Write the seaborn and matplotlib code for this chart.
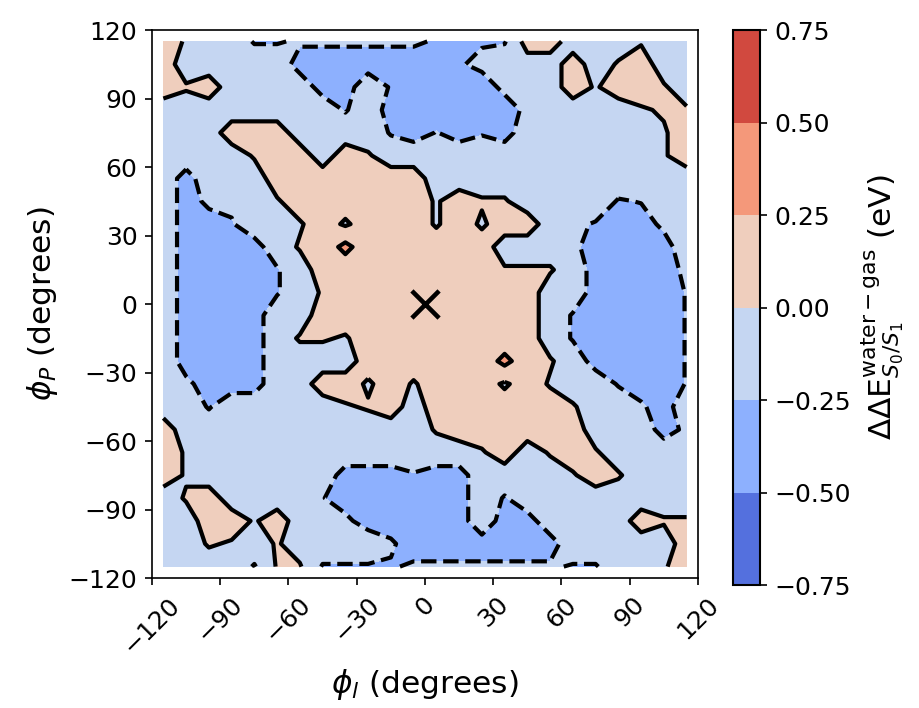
import numpy as np
import matplotlib
matplotlib.use("Agg")
import matplotlib.pyplot as plt
import seaborn as sns

# ---- grid coordinates (degrees) ----
phi_l = [-115, -105, -95, -85, -75, -65, -55, -45, -35, -25, -15, -5,
         5, 15, 25, 35, 45, 55, 65, 75, 85, 95, 105, 115]
phi_p = [115, 105, 95, 85, 75, 65, 55, 45, 35, 25, 15, 5,
         -5, -15, -25, -35, -45, -55, -65, -75, -85, -95, -105, -115]

# ---- energy values (eV) ----
A = -0.35   # medium blue band
B = -0.10   # light blue band
C = 0.10    # light salmon band
D = 0.32    # salmon band (small islands)
E = 0.02    # just above 0
F = -0.02   # just below 0
G = -0.20   # just above -0.25
L = -0.03   # tiny loops
s = -0.27   # just below -0.25
t = -0.22
u = -0.24

dE_rows = [
    [C, F, B, B, s, s, t, t, t, t, t, t, s, s, s, s, C, C, B, B, B, F, B, B],
    [C, B, B, B, B, B, A, A, A, A, A, A, A, s, G, B, B, B, C, B, E, C, B, B],
    [C, E, C, B, B, B, B, A, A, B, s, A, A, A, A, G, B, B, C, F, C, C, E, B],
    [B, B, B, B, B, B, B, B, s, B, A, A, A, A, A, A, G, B, B, B, B, F, E, E],
    [B, B, B, C, C, C, B, B, B, B, s, A, u, A, s, A, B, B, B, B, B, B, F, C],
    [B, B, B, B, E, C, C, B, C, E, B, B, B, B, B, B, B, B, B, B, B, B, F, C],
    [B, A, B, B, B, C, C, C, C, C, C, C, B, B, B, B, B, B, B, B, B, B, B, B],
    [B, A, G, G, B, F, C, C, C, C, C, C, F, C, E, E, B, B, B, B, s, u, B, B],
    [B, A, A, s, B, B, F, C, L, C, C, C, F, C, L, C, C, B, G, s, A, A, G, B],
    [B, A, A, A, A, B, E, C, D, C, C, C, C, C, C, B, B, B, G, A, A, A, A, B],
    [B, A, A, A, A, s, B, C, C, C, C, C, C, C, C, E, E, E, B, A, A, A, A, G],
    [B, A, A, A, A, s, B, E, C, C, C, C, C, C, C, C, C, B, B, A, A, A, A, u],
    [B, A, A, A, A, B, B, C, C, C, C, C, C, C, C, C, C, B, s, A, A, A, A, u],
    [B, A, A, A, A, B, E, E, F, C, C, C, C, C, C, C, C, B, s, A, A, A, A, u],
    [B, A, A, A, A, B, B, B, B, C, C, C, C, C, C, D, C, E, B, A, A, A, A, u],
    [B, G, A, A, A, B, B, C, C, L, C, F, C, C, C, L, C, F, B, B, s, A, A, u],
    [B, B, s, B, B, B, B, B, F, E, C, B, C, C, C, C, C, C, E, B, B, t, A, B],
    [C, B, B, B, B, B, B, B, B, B, B, B, E, C, C, C, C, C, C, B, B, B, A, G],
    [C, F, B, B, B, B, B, B, B, B, B, B, B, B, F, C, B, E, C, E, B, B, B, B],
    [C, F, B, B, B, B, B, B, A, A, A, s, A, A, B, B, B, B, F, C, E, B, B, B],
    [B, E, C, B, B, B, B, u, A, A, A, A, A, A, B, s, B, B, B, B, B, B, B, B],
    [B, B, C, C, F, C, B, B, G, A, A, A, A, A, B, A, A, B, B, B, B, C, E, E],
    [B, B, E, F, B, E, B, B, B, B, t, A, A, A, A, A, A, A, B, B, B, B, B, C],
    [B, B, B, B, s, E, E, s, s, s, s, t, t, t, t, t, t, t, s, s, B, B, F, C],
]

levels = [-0.75, -0.5, -0.25, 0.0, 0.25, 0.5, 0.75]
xticks = [-120, -90, -60, -30, 0, 30, 60, 90, 120]
yticks = [-120, -90, -60, -30, 0, 30, 60, 90, 120]
marker_x = [0]
marker_y = [0]

# ---- style ----
sns.set_style("ticks", rc={
    "axes.edgecolor": "black",
    "axes.linewidth": 0.8,
    "xtick.color": "black",
    "ytick.color": "black",
    "xtick.major.size": 3.5,
    "ytick.major.size": 3.5,
    "xtick.major.width": 0.8,
    "ytick.major.width": 0.8,
    "axes.labelcolor": "black",
    "text.color": "black",
})
plt.rcParams["font.family"] = ["DejaVu Sans"]
plt.rcParams["mathtext.fontset"] = "dejavusans"

fig = plt.figure(figsize=(919 / 150, 708 / 150), dpi=150)
ax = fig.add_axes([0.1654, 0.1836, 0.5941, 0.774])
cax = fig.add_axes([0.7976, 0.1737, 0.0294, 0.7839])

Z = np.array(dE_rows, dtype=float)
cf = ax.contourf(phi_l, phi_p, Z, levels=levels, cmap="coolwarm")
ax.contour(phi_l, phi_p, Z, levels=levels, colors="black", linewidths=2.0)

sns.scatterplot(x=marker_x, y=marker_y, marker="x", s=170, color="black",
                linewidth=2.2, ax=ax, zorder=5, legend=False)

ax.set_xlim(-120, 120)
ax.set_ylim(-120, 120)
ax.set_xticks(xticks)
ax.set_yticks(yticks)
ax.tick_params(axis="both", labelsize=12)
ax.tick_params(axis="x", labelrotation=45)
ax.set_xlabel(r"$\phi_l$ (degrees)", fontsize=15)
ax.set_ylabel(r"$\phi_P$ (degrees)", fontsize=15)

cb = fig.colorbar(cf, cax=cax)
cb.set_ticks(levels)
cb.ax.tick_params(labelsize=12, length=3.5, width=0.8)
cb.outline.set_linewidth(1.0)
cb.set_label(r"$\Delta\Delta\mathrm{E}^{\mathrm{water-gas}}_{S_0/S_1}$ (eV)",
             fontsize=15)

fig.savefig("out.png", dpi=150)
